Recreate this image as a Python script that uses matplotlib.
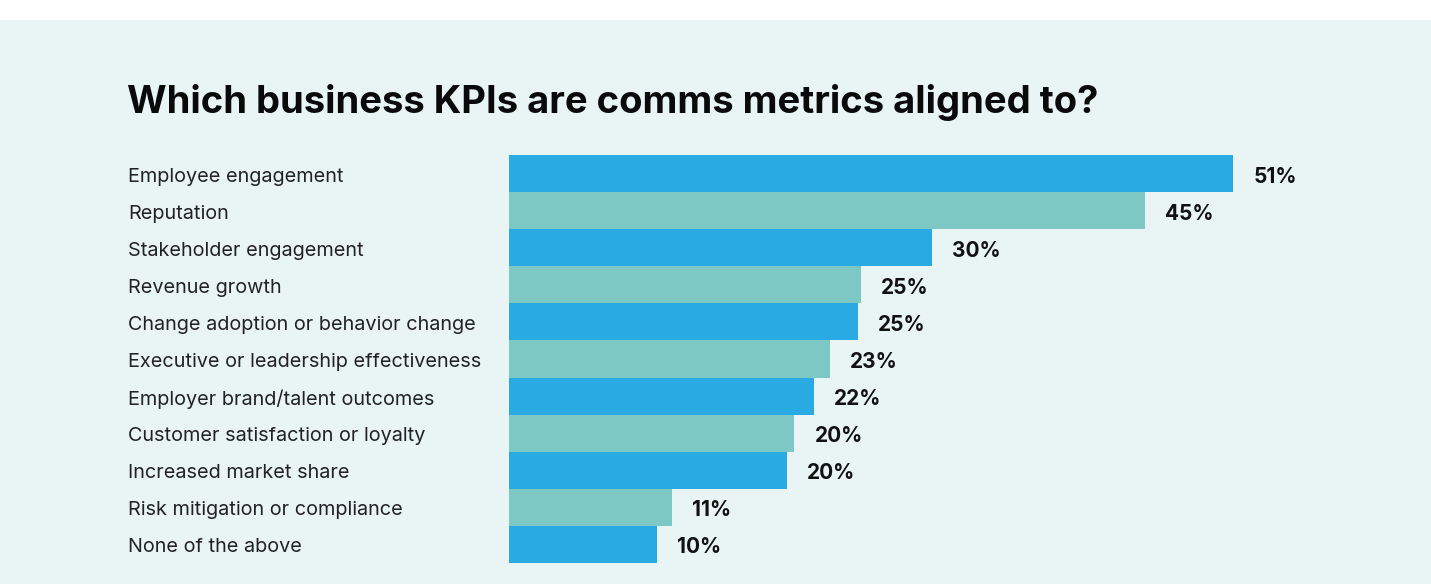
import matplotlib
matplotlib.use("Agg")
import matplotlib.pyplot as plt
from matplotlib.patches import Rectangle
from matplotlib.transforms import blended_transform_factory, offset_copy

plt.rcParams['font.family'] = ['Inter', 'DejaVu Sans']

# data
categories = [
    "Employee engagement",
    "Reputation",
    "Stakeholder engagement",
    "Revenue growth",
    "Change adoption or behavior change",
    "Executive or leadership effectiveness",
    "Employer brand/talent outcomes",
    "Customer satisfaction or loyalty",
    "Increased market share",
    "Risk mitigation or compliance",
    "None of the above",
]
bar_values = [51.0, 44.8, 29.8, 24.8, 24.6, 22.6, 21.5, 20.1, 19.6, 11.5, 10.4]
value_labels = ["51%", "45%", "30%", "25%", "25%", "23%", "22%", "20%", "20%", "11%", "10%"]

BLUE = "#29AAE2"
TEAL = "#7DC8C5"
BG = "#E9F5F5"

W, H = 1431, 584
fig = plt.figure(figsize=(W / 100, H / 100), dpi=100)
fig.patch.set_facecolor("white")

# light panel below the white strip at the top
fig.patches.append(Rectangle((0, 0), 1, 1 - 20 / H, transform=fig.transFigure,
                             facecolor=BG, edgecolor="none", zorder=-5))

# axes placed so bars start at x=509px, span y=155..563px
px_per_unit = 724.3 / 51
left = 509 / W
ax = fig.add_axes([left, 1 - 563 / H, 1 - left, (563 - 155) / H])
ax.set_zorder(2)
ax.set_xlim(0, (W - 509) / px_per_unit)
ax.set_ylim(len(categories) - 0.5, -0.5)
ax.set_facecolor("none")
ax.axis("off")

colors = [BLUE if i % 2 == 0 else TEAL for i in range(len(categories))]
y = list(range(len(categories)))
ax.barh(y, bar_values, height=1.0, color=colors, edgecolor="none")

# value labels sit ~20px right of the bar end, a little below centre
for i, (v, lab) in enumerate(zip(bar_values, value_labels)):
    ax.annotate(lab, (v, i), xytext=(20 * 0.72, -3 * 0.72), textcoords="offset points",
                ha="left", va="center", fontsize=15, fontweight="bold", color="#111111",
                annotation_clip=False)

# category labels on the left, in figure x but data y
trans = blended_transform_factory(fig.transFigure, ax.transData)
trans = offset_copy(trans, fig=fig, x=0, y=-3, units="dots")
for i, cat in enumerate(categories):
    ax.text(128 / W, i, cat, transform=trans, ha="left", va="center",
            fontsize=14.3, color="#222222", clip_on=False)

fig.text(127 / W, 1 - 113 / H, "Which business KPIs are comms metrics aligned to?",
         ha="left", va="baseline", fontsize=27.5, fontweight="bold", color="#0a0a0a")

fig.savefig("out.png", dpi=100, facecolor=fig.get_facecolor())
